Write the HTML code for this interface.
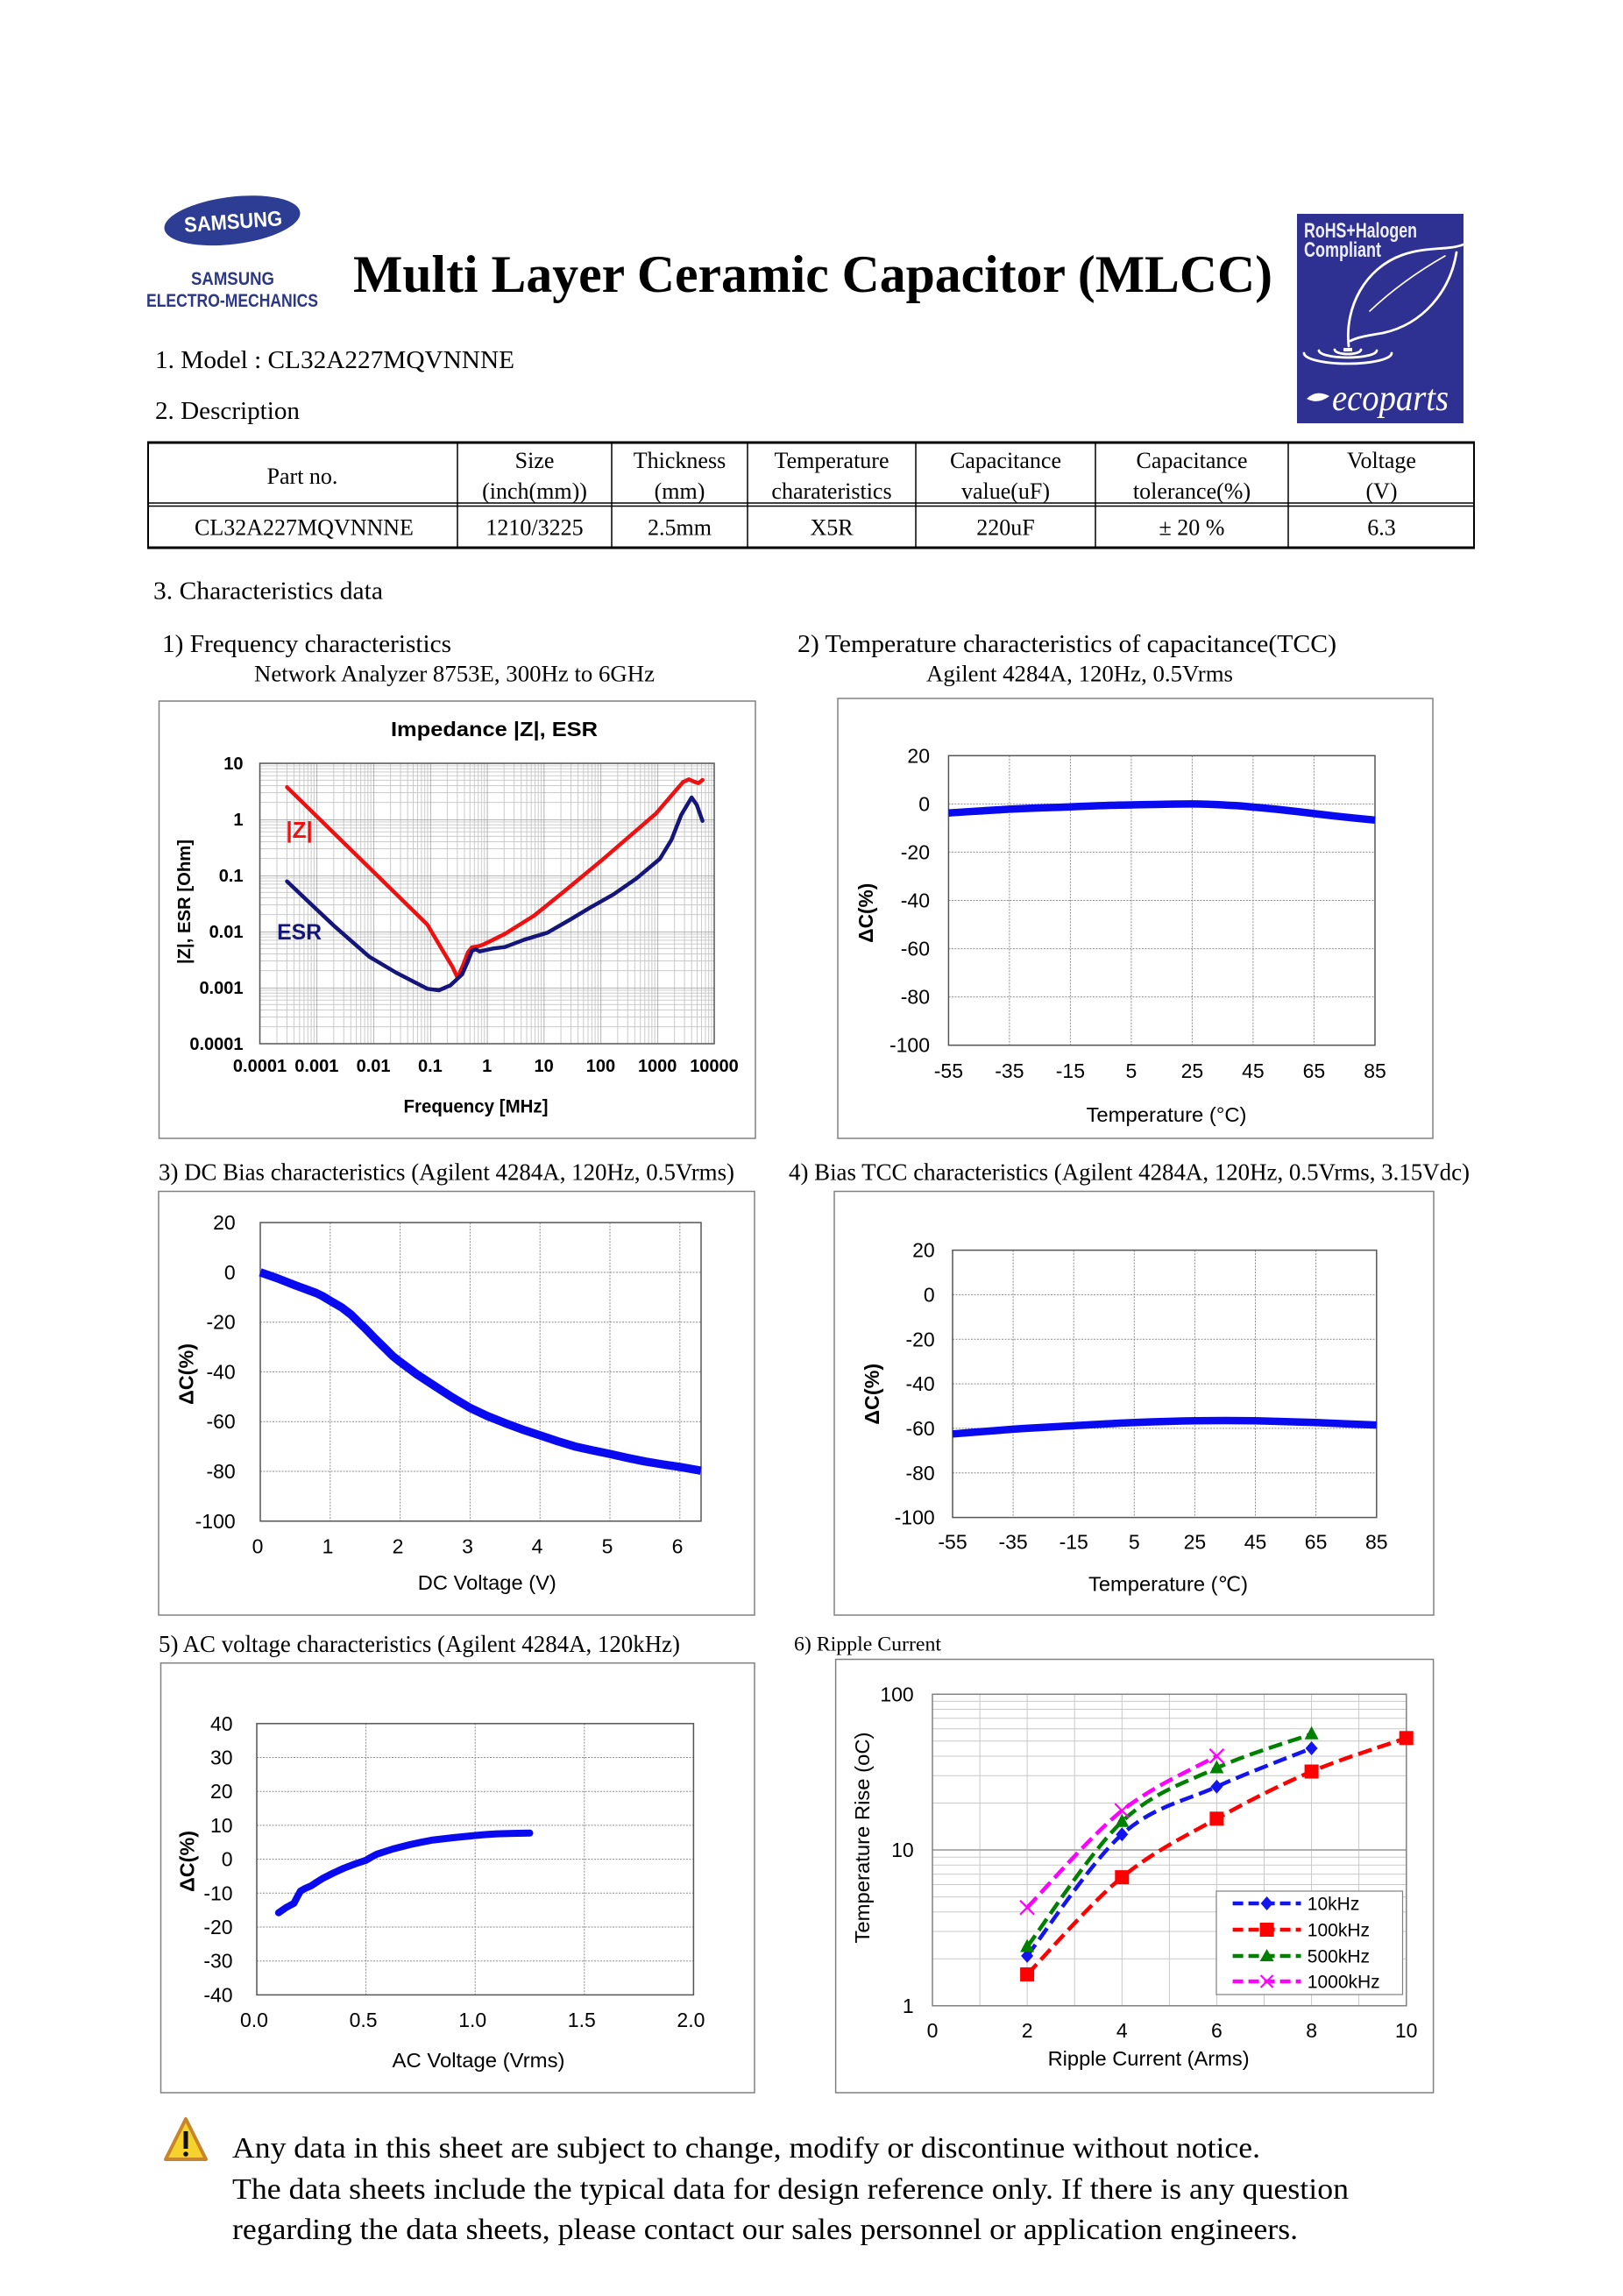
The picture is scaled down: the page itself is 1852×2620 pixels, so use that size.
<!DOCTYPE html>
<html>
<head>
<meta charset="utf-8">
<style>
html,body{margin:0;padding:0;background:#fff;}
svg{display:block;}
.serif{font-family:"Liberation Serif","DejaVu Serif",serif;}
.sans{font-family:"Liberation Sans","DejaVu Sans","Noto Sans CJK JP",sans-serif;}
</style>
</head>
<body>
<svg width="1852" height="2620" viewBox="0 0 1852 2620" xmlns="http://www.w3.org/2000/svg">
<defs>
  <pattern id="logpat" x="296.5" y="871" width="64.81" height="64" patternUnits="userSpaceOnUse">
    <g stroke="#c4c4c4" stroke-width="0.9">
      <line x1="19.51" y1="0" x2="19.51" y2="64"/>
      <line x1="30.92" y1="0" x2="30.92" y2="64"/>
      <line x1="39.02" y1="0" x2="39.02" y2="64"/>
      <line x1="45.30" y1="0" x2="45.30" y2="64"/>
      <line x1="50.43" y1="0" x2="50.43" y2="64"/>
      <line x1="54.77" y1="0" x2="54.77" y2="64"/>
      <line x1="58.53" y1="0" x2="58.53" y2="64"/>
      <line x1="61.84" y1="0" x2="61.84" y2="64"/>
      <line x1="0" y1="44.73" x2="64.81" y2="44.73"/>
      <line x1="0" y1="33.46" x2="64.81" y2="33.46"/>
      <line x1="0" y1="25.47" x2="64.81" y2="25.47"/>
      <line x1="0" y1="19.27" x2="64.81" y2="19.27"/>
      <line x1="0" y1="14.20" x2="64.81" y2="14.20"/>
      <line x1="0" y1="9.91" x2="64.81" y2="9.91"/>
      <line x1="0" y1="6.20" x2="64.81" y2="6.20"/>
      <line x1="0" y1="2.93" x2="64.81" y2="2.93"/>
    </g>
    <g stroke="#8a8a8a" stroke-width="1.3">
      <line x1="0" y1="0" x2="0" y2="64"/>
      <line x1="0" y1="0" x2="64.81" y2="0"/>
    </g>
  </pattern>
</defs>

<rect x="0" y="0" width="1852" height="2620" fill="#fff"/>

<!-- ===== HEADER ===== -->
<ellipse cx="265" cy="251.7" rx="78" ry="27" fill="#2d3d93" transform="rotate(-7 265 251.7)"/>
<text class="sans" x="266" y="261" font-size="24" font-weight="bold" fill="#fff" text-anchor="middle" textLength="112" lengthAdjust="spacingAndGlyphs" transform="rotate(-4 266 252)">SAMSUNG</text>
<text class="sans" x="265.5" y="325" font-size="21" font-weight="bold" fill="#2c3785" text-anchor="middle" textLength="95" lengthAdjust="spacingAndGlyphs">SAMSUNG</text>
<text class="sans" x="265" y="350" font-size="21" font-weight="bold" fill="#2c3785" text-anchor="middle" textLength="196" lengthAdjust="spacingAndGlyphs">ELECTRO-MECHANICS</text>

<text class="serif" x="403" y="333" font-size="60" font-weight="bold" fill="#000" textLength="1049" lengthAdjust="spacingAndGlyphs">Multi Layer Ceramic Capacitor (MLCC)</text>

<!-- RoHS badge -->
<rect x="1480" y="244" width="190" height="239" fill="#2e3192"/>
<text class="sans" x="1488" y="271" font-size="24" font-weight="bold" fill="#eef" textLength="129" lengthAdjust="spacingAndGlyphs">RoHS+Halogen</text>
<text class="sans" x="1488" y="293" font-size="24" font-weight="bold" fill="#eef" textLength="88" lengthAdjust="spacingAndGlyphs">Compliant</text>
<g fill="none" stroke="#fff" stroke-width="2.8" stroke-linecap="round">
  <path d="M1539,395 C1534,350 1558,306 1600,291 C1628,281 1652,286 1670,279"/>
  <path d="M1662,288 C1655,332 1624,370 1578,380 C1560,383 1548,385 1541,389"/>
  <path d="M1563,355 Q1600,320 1649,292" stroke-width="1.6"/>
  <path d="M1488,403 A50,12 0 0 0 1588,403"/>
  <path d="M1505,400 A33,8 0 0 0 1571,400"/>
  <path d="M1523,399 A15,5 0 0 0 1553,399"/>
</g>
<rect x="1533" y="397" width="10" height="4" fill="#fff"/>
<path d="M1491,455 Q1502,444 1517,452 Q1504,462 1491,455 Z" fill="#fff"/>
<text class="serif" x="1520" y="468" font-size="42" font-style="italic" fill="#fff" textLength="133" lengthAdjust="spacingAndGlyphs">ecoparts</text>

<text class="serif" x="177" y="420" font-size="29" fill="#000" textLength="410" lengthAdjust="spacingAndGlyphs">1. Model : CL32A227MQVNNNE</text>
<text class="serif" x="177" y="478" font-size="29" fill="#000" textLength="165" lengthAdjust="spacingAndGlyphs">2. Description</text>

<!-- Table -->
<g stroke="#000" fill="none">
  <line x1="168" y1="505" x2="1683" y2="505" stroke-width="3"/>
  <line x1="168" y1="625" x2="1683" y2="625" stroke-width="3"/>
  <line x1="169" y1="504" x2="169" y2="626" stroke-width="2"/>
  <line x1="1682" y1="504" x2="1682" y2="626" stroke-width="2"/>
  <line x1="168" y1="574" x2="1683" y2="574" stroke-width="1.5"/>
  <line x1="168" y1="577.5" x2="1683" y2="577.5" stroke-width="1.5"/>
  <line x1="522" y1="504" x2="522" y2="626" stroke-width="1.5"/>
  <line x1="698" y1="504" x2="698" y2="626" stroke-width="1.5"/>
  <line x1="853" y1="504" x2="853" y2="626" stroke-width="1.5"/>
  <line x1="1045" y1="504" x2="1045" y2="626" stroke-width="1.5"/>
  <line x1="1250" y1="504" x2="1250" y2="626" stroke-width="1.5"/>
  <line x1="1470" y1="504" x2="1470" y2="626" stroke-width="1.5"/>
</g>
<g class="serif" font-size="26" fill="#000" text-anchor="middle">
  <text x="345" y="552">Part no.</text>
  <text x="610" y="534">Size</text>
  <text x="610" y="569">(inch(mm))</text>
  <text x="775.5" y="534">Thickness</text>
  <text x="775.5" y="569">(mm)</text>
  <text x="949" y="534">Temperature</text>
  <text x="949" y="569">charateristics</text>
  <text x="1147.5" y="534">Capacitance</text>
  <text x="1147.5" y="569">value(uF)</text>
  <text x="1360" y="534">Capacitance</text>
  <text x="1360" y="569">tolerance(%)</text>
  <text x="1576.5" y="534">Voltage</text>
  <text x="1576.5" y="569">(V)</text>
  <text x="347" y="610.5">CL32A227MQVNNNE</text>
  <text x="610" y="610.5">1210/3225</text>
  <text x="775.5" y="610.5">2.5mm</text>
  <text x="949" y="610.5">X5R</text>
  <text x="1147.5" y="610.5">220uF</text>
  <text x="1360" y="610.5">± 20 %</text>
  <text x="1576.5" y="610.5">6.3</text>
</g>

<text class="serif" x="175" y="683.5" font-size="29" fill="#000" textLength="262" lengthAdjust="spacingAndGlyphs">3. Characteristics data</text>
<text class="serif" x="185" y="744" font-size="29" fill="#000" textLength="330" lengthAdjust="spacingAndGlyphs">1) Frequency characteristics</text>
<text class="serif" x="290" y="777.5" font-size="26.5" fill="#000" textLength="457" lengthAdjust="spacingAndGlyphs">Network Analyzer 8753E, 300Hz to 6GHz</text>
<text class="serif" x="910" y="744" font-size="29" fill="#000" textLength="615" lengthAdjust="spacingAndGlyphs">2) Temperature characteristics of capacitance(TCC)</text>
<text class="serif" x="1057" y="777.5" font-size="26.5" fill="#000" textLength="350" lengthAdjust="spacingAndGlyphs">Agilent 4284A, 120Hz, 0.5Vrms</text>

<!-- ===== CHART 1 ===== -->
<rect x="181.5" y="800" width="680.5" height="499" fill="#fff" stroke="#808080" stroke-width="1.5"/>
<text class="sans" x="564" y="840" font-size="23" font-weight="bold" text-anchor="middle" textLength="236" lengthAdjust="spacingAndGlyphs">Impedance |Z|,  ESR</text>
<rect x="296.5" y="871" width="518.5" height="320" fill="url(#logpat)"/>
<rect x="296.5" y="871" width="518.5" height="320" fill="none" stroke="#555" stroke-width="1.5"/>
<g class="sans" font-size="20" font-weight="bold" text-anchor="end">
  <text x="277.5" y="878">10</text>
  <text x="277.5" y="942">1</text>
  <text x="277.5" y="1006">0.1</text>
  <text x="277.5" y="1070">0.01</text>
  <text x="277.5" y="1134">0.001</text>
  <text x="277.5" y="1198">0.0001</text>
</g>
<g class="sans" font-size="20" font-weight="bold" text-anchor="middle">
  <text x="296.5" y="1223">0.0001</text>
  <text x="361.3" y="1223">0.001</text>
  <text x="426.1" y="1223">0.01</text>
  <text x="490.9" y="1223">0.1</text>
  <text x="555.7" y="1223">1</text>
  <text x="620.6" y="1223">10</text>
  <text x="685.4" y="1223">100</text>
  <text x="750.2" y="1223">1000</text>
  <text x="815" y="1223">10000</text>
</g>
<text class="sans" x="543" y="1269.5" font-size="21" font-weight="bold" text-anchor="middle" textLength="165" lengthAdjust="spacingAndGlyphs">Frequency [MHz]</text>
<text class="sans" font-size="20" font-weight="bold" text-anchor="middle" transform="translate(217,1029) rotate(-90)" textLength="142" lengthAdjust="spacingAndGlyphs">|Z|, ESR [Ohm]</text>
<polyline fill="none" stroke="#ee1111" stroke-width="4.5" stroke-linejoin="round" stroke-linecap="round"
 points="327.5,898.3 487.6,1055 505.3,1085 516.3,1103.3 522.1,1115.7 528.3,1101.7 534,1086.7 538.5,1081 545.1,1080 551.7,1077.7 562.8,1072.3 576.1,1065.7 609.2,1045 642.4,1018.3 686.6,981.7 748.5,928.3 779.5,892.3 786.1,889.3 792.8,892.3 797.2,893.7 801.6,890"/>
<polyline fill="none" stroke="#14167a" stroke-width="4.5" stroke-linejoin="round" stroke-linecap="round"
 points="327.5,1005.7 354.9,1031.7 381.4,1056.7 421.3,1091.7 452.2,1110 487.6,1128.3 500.9,1130 514.1,1124.3 527.4,1111.7 534,1096.7 538.5,1085 542.9,1083.3 547.3,1085.7 562.8,1082.3 576.1,1080.7 598.2,1072.3 624.7,1064.3 651.2,1049 673.4,1035.7 699.9,1020.7 726.4,1002.3 753,980 766.2,958.3 777.3,930 789.2,910 795,918.3 801.6,936.7"/>
<text class="sans" x="341.6" y="956" font-size="26" font-weight="bold" fill="#ee1111" text-anchor="middle">|Z|</text>
<text class="sans" x="341.6" y="1072" font-size="25" font-weight="bold" fill="#14167a" text-anchor="middle" textLength="51" lengthAdjust="spacingAndGlyphs">ESR</text>

<!-- ===== CHART 2 ===== -->
<rect x="956" y="797" width="679" height="502" fill="#fff" stroke="#808080" stroke-width="1.5"/>
<g stroke="#8c8c8c" stroke-width="1" stroke-dasharray="2 1.5">
  <line x1="1151.9" y1="862.3" x2="1151.9" y2="1192.7"/>
  <line x1="1221.4" y1="862.3" x2="1221.4" y2="1192.7"/>
  <line x1="1290.9" y1="862.3" x2="1290.9" y2="1192.7"/>
  <line x1="1360.4" y1="862.3" x2="1360.4" y2="1192.7"/>
  <line x1="1429.9" y1="862.3" x2="1429.9" y2="1192.7"/>
  <line x1="1499.4" y1="862.3" x2="1499.4" y2="1192.7"/>
  <line x1="1082.4" y1="917.4" x2="1569" y2="917.4"/>
  <line x1="1082.4" y1="972.4" x2="1569" y2="972.4"/>
  <line x1="1082.4" y1="1027.5" x2="1569" y2="1027.5"/>
  <line x1="1082.4" y1="1082.6" x2="1569" y2="1082.6"/>
  <line x1="1082.4" y1="1137.6" x2="1569" y2="1137.6"/>
</g>
<rect x="1082.4" y="862.3" width="486.6" height="330.4" fill="none" stroke="#555" stroke-width="1.5"/>
<g class="sans" font-size="23" text-anchor="end">
  <text x="1061" y="870.3">20</text>
  <text x="1061" y="925.4">0</text>
  <text x="1061" y="980.4">-20</text>
  <text x="1061" y="1035.5">-40</text>
  <text x="1061" y="1090.6">-60</text>
  <text x="1061" y="1145.6">-80</text>
  <text x="1061" y="1200.7">-100</text>
</g>
<g class="sans" font-size="23" text-anchor="middle">
  <text x="1082.4" y="1230">-55</text>
  <text x="1151.9" y="1230">-35</text>
  <text x="1221.4" y="1230">-15</text>
  <text x="1290.9" y="1230">5</text>
  <text x="1360.4" y="1230">25</text>
  <text x="1429.9" y="1230">45</text>
  <text x="1499.4" y="1230">65</text>
  <text x="1569" y="1230">85</text>
</g>
<text class="sans" x="1331" y="1280" font-size="23" text-anchor="middle" textLength="183" lengthAdjust="spacingAndGlyphs">Temperature (°C)</text>
<text class="sans" font-size="23" font-weight="bold" text-anchor="middle" transform="translate(996,1041.7) rotate(-90)" textLength="68" lengthAdjust="spacingAndGlyphs">ΔC(%)</text>
<path fill="none" stroke="#0a0af0" stroke-width="8.5" stroke-linejoin="round"
 d="M1082.4,927.7 C1110,926 1130,924.5 1151.9,923.4 C1180,922 1200,921.5 1221.4,920.7 C1250,919.5 1270,918.8 1290.9,918.5 C1320,918 1340,917.3 1360.4,917.4 C1380,917.6 1395,918.4 1410,919.3 C1420,920 1425,920.6 1429.9,921 C1460,923.5 1480,926 1499.4,928.4 C1525,931.5 1550,934 1569,935.8"/>

<!-- ===== CHART 3 ===== -->
<text class="serif" x="181" y="1346.5" font-size="27" fill="#000" textLength="657" lengthAdjust="spacingAndGlyphs">3) DC Bias characteristics (Agilent 4284A, 120Hz, 0.5Vrms)</text>
<rect x="181" y="1359.5" width="680" height="483.5" fill="#fff" stroke="#808080" stroke-width="1.5"/>
<g stroke="#8c8c8c" stroke-width="1" stroke-dasharray="2 1.5">
  <line x1="376.8" y1="1395.1" x2="376.8" y2="1735.8"/>
  <line x1="456.6" y1="1395.1" x2="456.6" y2="1735.8"/>
  <line x1="536.4" y1="1395.1" x2="536.4" y2="1735.8"/>
  <line x1="616.2" y1="1395.1" x2="616.2" y2="1735.8"/>
  <line x1="696" y1="1395.1" x2="696" y2="1735.8"/>
  <line x1="775.8" y1="1395.1" x2="775.8" y2="1735.8"/>
  <line x1="297" y1="1451.9" x2="800" y2="1451.9"/>
  <line x1="297" y1="1508.7" x2="800" y2="1508.7"/>
  <line x1="297" y1="1565.4" x2="800" y2="1565.4"/>
  <line x1="297" y1="1622.2" x2="800" y2="1622.2"/>
  <line x1="297" y1="1679" x2="800" y2="1679"/>
</g>
<rect x="297" y="1395.1" width="503" height="340.7" fill="none" stroke="#555" stroke-width="1.5"/>
<g class="sans" font-size="23" text-anchor="end">
  <text x="268.7" y="1403.1">20</text>
  <text x="268.7" y="1459.9">0</text>
  <text x="268.7" y="1516.7">-20</text>
  <text x="268.7" y="1573.4">-40</text>
  <text x="268.7" y="1630.2">-60</text>
  <text x="268.7" y="1687">-80</text>
  <text x="268.7" y="1743.8">-100</text>
</g>
<g class="sans" font-size="23" text-anchor="middle">
  <text x="294" y="1772.5">0</text>
  <text x="374" y="1772.5">1</text>
  <text x="454" y="1772.5">2</text>
  <text x="533.5" y="1772.5">3</text>
  <text x="613" y="1772.5">4</text>
  <text x="693" y="1772.5">5</text>
  <text x="773" y="1772.5">6</text>
</g>
<text class="sans" x="555.8" y="1814" font-size="23" text-anchor="middle" textLength="158" lengthAdjust="spacingAndGlyphs">DC Voltage (V)</text>
<text class="sans" font-size="23" font-weight="bold" text-anchor="middle" transform="translate(220.6,1568) rotate(-90)" textLength="70" lengthAdjust="spacingAndGlyphs">ΔC(%)</text>
<polyline fill="none" stroke="#0a0af0" stroke-width="9.5" stroke-linejoin="round"
 points="297,1451.9 316,1458.5 336.9,1466.7 350,1471.5 360.8,1475.5 368,1479 376.8,1484.3 390,1492 400.7,1500.2 408,1507.5 416.7,1515.8 428,1527.5 440.6,1539.9 448,1547.3 456.6,1554.1 476,1568.5 496.5,1581.9 516,1594.5 536.4,1606.6 556,1615.8 576.3,1623.9 596,1631.2 616.2,1637.9 636,1644.5 656.1,1650.6 676,1655 696,1659.1 716,1663.6 735.9,1667.7 756,1671 775.8,1673.9 799.7,1678.2"/>

<!-- ===== CHART 4 ===== -->
<text class="serif" x="900" y="1346.5" font-size="27" fill="#000" textLength="777" lengthAdjust="spacingAndGlyphs">4) Bias TCC characteristics (Agilent 4284A, 120Hz, 0.5Vrms, 3.15Vdc)</text>
<rect x="952" y="1359.5" width="684" height="483.5" fill="#fff" stroke="#808080" stroke-width="1.5"/>
<g stroke="#8c8c8c" stroke-width="1" stroke-dasharray="2 1.5">
  <line x1="1156.1" y1="1426.6" x2="1156.1" y2="1731.6"/>
  <line x1="1225.2" y1="1426.6" x2="1225.2" y2="1731.6"/>
  <line x1="1294.3" y1="1426.6" x2="1294.3" y2="1731.6"/>
  <line x1="1363.4" y1="1426.6" x2="1363.4" y2="1731.6"/>
  <line x1="1432.5" y1="1426.6" x2="1432.5" y2="1731.6"/>
  <line x1="1501.6" y1="1426.6" x2="1501.6" y2="1731.6"/>
  <line x1="1087" y1="1477.4" x2="1570.8" y2="1477.4"/>
  <line x1="1087" y1="1528.3" x2="1570.8" y2="1528.3"/>
  <line x1="1087" y1="1579.1" x2="1570.8" y2="1579.1"/>
  <line x1="1087" y1="1629.9" x2="1570.8" y2="1629.9"/>
  <line x1="1087" y1="1680.8" x2="1570.8" y2="1680.8"/>
</g>
<rect x="1087" y="1426.6" width="483.8" height="305" fill="none" stroke="#555" stroke-width="1.5"/>
<g class="sans" font-size="23" text-anchor="end">
  <text x="1066.7" y="1434.6">20</text>
  <text x="1066.7" y="1485.4">0</text>
  <text x="1066.7" y="1536.3">-20</text>
  <text x="1066.7" y="1587.1">-40</text>
  <text x="1066.7" y="1637.9">-60</text>
  <text x="1066.7" y="1688.8">-80</text>
  <text x="1066.7" y="1739.6">-100</text>
</g>
<g class="sans" font-size="23" text-anchor="middle">
  <text x="1087" y="1767.5">-55</text>
  <text x="1156.1" y="1767.5">-35</text>
  <text x="1225.2" y="1767.5">-15</text>
  <text x="1294.3" y="1767.5">5</text>
  <text x="1363.4" y="1767.5">25</text>
  <text x="1432.5" y="1767.5">45</text>
  <text x="1501.6" y="1767.5">65</text>
  <text x="1570.8" y="1767.5">85</text>
</g>
<text class="sans" x="1333" y="1815.5" font-size="23" text-anchor="middle" textLength="182" lengthAdjust="spacingAndGlyphs">Temperature (℃)</text>
<text class="sans" font-size="23" font-weight="bold" text-anchor="middle" transform="translate(1002.9,1590.8) rotate(-90)" textLength="70" lengthAdjust="spacingAndGlyphs">ΔC(%)</text>
<path fill="none" stroke="#0a0af0" stroke-width="8.5" stroke-linejoin="round"
 d="M1087,1636.3 C1110,1634.5 1135,1632.5 1156.1,1630.9 C1180,1629.3 1205,1628 1225.2,1626.9 C1250,1625.5 1272,1624.2 1294.3,1623.3 C1320,1622.3 1342,1621.6 1363.4,1621.3 C1385,1620.9 1410,1620.9 1432.5,1621.3 C1457,1621.8 1480,1622.5 1501.6,1623.3 C1525,1624.3 1550,1625.4 1570.8,1626.1"/>

<!-- ===== CHART 5 ===== -->
<text class="serif" x="181" y="1885" font-size="27" fill="#000" textLength="595" lengthAdjust="spacingAndGlyphs">5) AC voltage characteristics (Agilent 4284A, 120kHz)</text>
<rect x="183.5" y="1897.7" width="677.5" height="490.3" fill="#fff" stroke="#808080" stroke-width="1.5"/>
<g stroke="#8c8c8c" stroke-width="1" stroke-dasharray="2 1.5">
  <line x1="417.6" y1="1966.8" x2="417.6" y2="2276.4"/>
  <line x1="542.2" y1="1966.8" x2="542.2" y2="2276.4"/>
  <line x1="666.8" y1="1966.8" x2="666.8" y2="2276.4"/>
  <line x1="293" y1="2005.5" x2="791.4" y2="2005.5"/>
  <line x1="293" y1="2044.2" x2="791.4" y2="2044.2"/>
  <line x1="293" y1="2082.9" x2="791.4" y2="2082.9"/>
  <line x1="293" y1="2121.6" x2="791.4" y2="2121.6"/>
  <line x1="293" y1="2160.3" x2="791.4" y2="2160.3"/>
  <line x1="293" y1="2199" x2="791.4" y2="2199"/>
  <line x1="293" y1="2237.7" x2="791.4" y2="2237.7"/>
</g>
<rect x="293" y="1966.8" width="498.4" height="309.6" fill="none" stroke="#555" stroke-width="1.5"/>
<g class="sans" font-size="23" text-anchor="end">
  <text x="265.6" y="1974.8">40</text>
  <text x="265.6" y="2013.5">30</text>
  <text x="265.6" y="2052.2">20</text>
  <text x="265.6" y="2090.9">10</text>
  <text x="265.6" y="2129.6">0</text>
  <text x="265.6" y="2168.3">-10</text>
  <text x="265.6" y="2207">-20</text>
  <text x="265.6" y="2245.7">-30</text>
  <text x="265.6" y="2284.4">-40</text>
</g>
<g class="sans" font-size="23" text-anchor="middle">
  <text x="290" y="2313">0.0</text>
  <text x="414.6" y="2313">0.5</text>
  <text x="539.2" y="2313">1.0</text>
  <text x="663.8" y="2313">1.5</text>
  <text x="788.4" y="2313">2.0</text>
</g>
<text class="sans" x="546" y="2359" font-size="23" text-anchor="middle" textLength="197" lengthAdjust="spacingAndGlyphs">AC Voltage (Vrms)</text>
<text class="sans" font-size="23" font-weight="bold" text-anchor="middle" transform="translate(221.5,2124) rotate(-90)" textLength="70" lengthAdjust="spacingAndGlyphs">ΔC(%)</text>
<polyline fill="none" stroke="#0a0af0" stroke-width="8" stroke-linejoin="round" stroke-linecap="round"
 points="317.9,2182.7 326,2177 335.4,2171.9 339,2165 342.8,2158 348,2155 355.3,2151.8 361,2148 367.8,2143.7 380,2137.5 392.7,2131.7 405,2127 417.6,2122.8 424,2119 430.1,2115.8 448,2110 467.4,2105 480,2102.3 492.4,2099.9 517,2097 542.2,2094.5 555,2093.4 567.1,2092.6 585,2092.1 604.5,2091.8"/>

<!-- ===== CHART 6 ===== -->
<text class="serif" x="906" y="1883.5" font-size="23" fill="#000" textLength="168" lengthAdjust="spacingAndGlyphs">6) Ripple Current</text>
<rect x="953.6" y="1893.5" width="682" height="494.5" fill="#fff" stroke="#808080" stroke-width="1.5"/>
<g stroke="#c8c8c8" stroke-width="1">
  <line x1="1118.1" y1="1933.3" x2="1118.1" y2="2288.8"/>
  <line x1="1172.1" y1="1933.3" x2="1172.1" y2="2288.8"/>
  <line x1="1226.2" y1="1933.3" x2="1226.2" y2="2288.8"/>
  <line x1="1280.3" y1="1933.3" x2="1280.3" y2="2288.8"/>
  <line x1="1334.4" y1="1933.3" x2="1334.4" y2="2288.8"/>
  <line x1="1388.4" y1="1933.3" x2="1388.4" y2="2288.8"/>
  <line x1="1442.5" y1="1933.3" x2="1442.5" y2="2288.8"/>
  <line x1="1496.6" y1="1933.3" x2="1496.6" y2="2288.8"/>
  <line x1="1550.6" y1="1933.3" x2="1550.6" y2="2288.8"/>
  <line x1="1064" y1="2235.3" x2="1604.8" y2="2235.3"/>
  <line x1="1064" y1="2204" x2="1604.8" y2="2204"/>
  <line x1="1064" y1="2181.8" x2="1604.8" y2="2181.8"/>
  <line x1="1064" y1="2164.6" x2="1604.8" y2="2164.6"/>
  <line x1="1064" y1="2150.5" x2="1604.8" y2="2150.5"/>
  <line x1="1064" y1="2138.6" x2="1604.8" y2="2138.6"/>
  <line x1="1064" y1="2128.3" x2="1604.8" y2="2128.3"/>
  <line x1="1064" y1="2119.2" x2="1604.8" y2="2119.2"/>
  <line x1="1064" y1="2057.5" x2="1604.8" y2="2057.5"/>
  <line x1="1064" y1="2026.2" x2="1604.8" y2="2026.2"/>
  <line x1="1064" y1="2004" x2="1604.8" y2="2004"/>
  <line x1="1064" y1="1986.8" x2="1604.8" y2="1986.8"/>
  <line x1="1064" y1="1972.7" x2="1604.8" y2="1972.7"/>
  <line x1="1064" y1="1960.8" x2="1604.8" y2="1960.8"/>
  <line x1="1064" y1="1950.5" x2="1604.8" y2="1950.5"/>
  <line x1="1064" y1="1941.4" x2="1604.8" y2="1941.4"/>
</g>
<line x1="1064" y1="2111" x2="1604.8" y2="2111" stroke="#b0b0b0" stroke-width="2"/>
<rect x="1064" y="1933.3" width="540.8" height="355.5" fill="none" stroke="#808080" stroke-width="1.5"/>
<g class="sans" font-size="23" text-anchor="end">
  <text x="1042.7" y="1941.3">100</text>
  <text x="1042.7" y="2119">10</text>
  <text x="1042.7" y="2296.8">1</text>
</g>
<g class="sans" font-size="23" text-anchor="middle">
  <text x="1064" y="2325">0</text>
  <text x="1172.1" y="2325">2</text>
  <text x="1280.3" y="2325">4</text>
  <text x="1388.4" y="2325">6</text>
  <text x="1496.6" y="2325">8</text>
  <text x="1604.7" y="2325">10</text>
</g>
<text class="sans" x="1310.6" y="2357" font-size="23" text-anchor="middle" textLength="230" lengthAdjust="spacingAndGlyphs">Ripple Current (Arms)</text>
<text class="sans" font-size="23" text-anchor="middle" transform="translate(991.8,2097) rotate(-90)" textLength="241" lengthAdjust="spacingAndGlyphs">Temperature Rise (oC)</text>

<g fill="none" stroke-width="4.5" stroke-dasharray="16 7">
  <path stroke="#ff00ff" d="M1172.1,2176.7 C1190.1,2158.3 1244.3,2094.9 1280.3,2066.1 C1316.4,2037.3 1370.4,2014.2 1388.4,2003.8"/>
  <path stroke="#008000" d="M1172.1,2221.5 C1190.1,2197.7 1244.3,2112.7 1280.3,2078.7 C1316.4,2044.7 1352.4,2034.2 1388.4,2017.5 C1424.5,2000.9 1478.6,1985.3 1496.6,1978.8"/>
  <path stroke="#1414ee" d="M1172.1,2231.9 C1190.1,2208.8 1244.3,2125.4 1280.3,2093.2 C1316.4,2061 1352.4,2055.2 1388.4,2038.8 C1424.5,2022.4 1478.6,2002.3 1496.6,1995"/>
  <path stroke="#ff0000" d="M1172.1,2253 C1190.1,2234.5 1244.3,2171.7 1280.3,2142.1 C1316.4,2112.5 1352.4,2095.4 1388.4,2075.3 C1424.5,2055.2 1460.6,2036.8 1496.6,2021.5 C1532.6,2006.2 1586.7,1989.7 1604.7,1983.3"/>
</g>
<!-- markers -->
<g fill="#1414ee">
  <polygon points="1172.1,2223.9 1179.1,2231.9 1172.1,2239.9 1165.1,2231.9"/>
  <polygon points="1280.3,2085.2 1287.3,2093.2 1280.3,2101.2 1273.3,2093.2"/>
  <polygon points="1388.4,2030.8 1395.4,2038.8 1388.4,2046.8 1381.4,2038.8"/>
  <polygon points="1496.6,1987 1503.6,1995 1496.6,2003 1489.6,1995"/>
</g>
<g fill="#ff0000">
  <rect x="1164.1" y="2245" width="16" height="16"/>
  <rect x="1272.3" y="2134.1" width="16" height="16"/>
  <rect x="1380.4" y="2067.3" width="16" height="16"/>
  <rect x="1488.6" y="2013.5" width="16" height="16"/>
  <rect x="1596.7" y="1975.3" width="16" height="16"/>
</g>
<g fill="#008000">
  <polygon points="1172.1,2212.5 1180.1,2227.5 1164.1,2227.5"/>
  <polygon points="1280.3,2069.7 1288.3,2084.7 1272.3,2084.7"/>
  <polygon points="1388.4,2008.5 1396.4,2023.5 1380.4,2023.5"/>
  <polygon points="1496.6,1969.8 1504.6,1984.8 1488.6,1984.8"/>
</g>
<g stroke="#ff00ff" stroke-width="2.2">
  <line x1="1164.1" y1="2168.7" x2="1180.1" y2="2184.7"/><line x1="1180.1" y1="2168.7" x2="1164.1" y2="2184.7"/>
  <line x1="1272.3" y1="2058.1" x2="1288.3" y2="2074.1"/><line x1="1288.3" y1="2058.1" x2="1272.3" y2="2074.1"/>
  <line x1="1380.4" y1="1995.8" x2="1396.4" y2="2011.8"/><line x1="1396.4" y1="1995.8" x2="1380.4" y2="2011.8"/>
</g>
<!-- legend -->
<rect x="1388" y="2158" width="212.5" height="118" fill="#fff" stroke="#808080" stroke-width="1.2"/>
<g fill="none" stroke-width="4.5" stroke-dasharray="12 6">
  <line x1="1406.6" y1="2172" x2="1484.5" y2="2172" stroke="#1414ee"/>
  <line x1="1406.6" y1="2202" x2="1484.5" y2="2202" stroke="#ff0000"/>
  <line x1="1406.6" y1="2232" x2="1484.5" y2="2232" stroke="#008000"/>
  <line x1="1406.6" y1="2261" x2="1484.5" y2="2261" stroke="#ff00ff"/>
</g>
<polygon points="1445.6,2164 1452.6,2172 1445.6,2180 1438.6,2172" fill="#1414ee"/>
<rect x="1437.6" y="2194" width="16" height="16" fill="#ff0000"/>
<polygon points="1445.6,2224 1453.6,2238 1437.6,2238" fill="#008000"/>
<g stroke="#ff00ff" stroke-width="2.2"><line x1="1438.6" y1="2254" x2="1452.6" y2="2268"/><line x1="1452.6" y1="2254" x2="1438.6" y2="2268"/></g>
<g class="sans" font-size="21">
  <text x="1491.8" y="2179.5">10kHz</text>
  <text x="1491.8" y="2209.5">100kHz</text>
  <text x="1491.8" y="2239.5">500kHz</text>
  <text x="1491.8" y="2268.5">1000kHz</text>
</g>

<!-- ===== FOOTER ===== -->
<path d="M212,2418 L235,2464 L189,2464 Z" fill="#f6d22c" stroke="#c8862a" stroke-width="4" stroke-linejoin="round"/>
<rect x="209.5" y="2432" width="5" height="20" fill="#111"/>
<circle cx="212" cy="2458" r="2.8" fill="#111"/>
<g class="serif" font-size="34" fill="#000">
  <text x="265" y="2462" textLength="1173" lengthAdjust="spacingAndGlyphs">Any data in this sheet are subject to change, modify or discontinue without notice.</text>
  <text x="265" y="2509" textLength="1274" lengthAdjust="spacingAndGlyphs">The data sheets include the typical data for design reference only. If there is any question</text>
  <text x="265" y="2555" textLength="1216" lengthAdjust="spacingAndGlyphs">regarding the data sheets, please contact our sales personnel or application engineers.</text>
</g>
</svg>
</body>
</html>
